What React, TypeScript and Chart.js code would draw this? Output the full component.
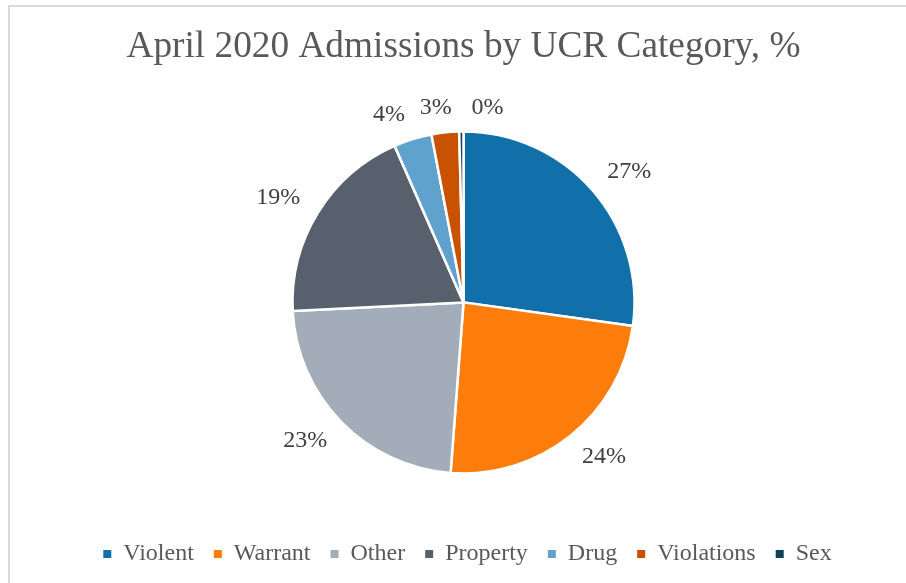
import { useEffect, useRef } from "react";
import { Chart, registerables } from "chart.js";

Chart.register(...registerables);

const categories = ["Violent", "Warrant", "Other", "Property", "Drug", "Violations", "Sex"];
const shares = [27.2, 24.0, 23.0, 19.2, 3.6, 2.6, 0.4];
const sliceColors = ["#1170AA", "#FC7D0B", "#A3ACB9", "#57606C", "#5FA2CE", "#C85200", "#123F5A"];
const titleText = "April 2020 Admissions by UCR Category, %";

const SERIF = "'Liberation Serif', 'Times New Roman', serif";

// small angular nudge (degrees) so the tiny last slice's label clears its neighbour
const labelNudgeDeg = [0, 0, 0, 0, 0, 0, 6];

const outsideLabels = {
  id: "outsideLabels",
  afterLayout(chart: any) {
    // nudge the centred legend slightly right, as in the reference
    if (chart.legend) {
      chart.legend.left += 4;
      chart.legend.right += 4;
    }
  },
  afterDatasetsDraw(chart: any) {
    const meta = chart.getDatasetMeta(0);
    const ctx = chart.ctx;
    const values = chart.data.datasets[0].data as number[];
    const total = values.reduce((a, b) => a + b, 0);
    ctx.save();
    ctx.font = `24px ${SERIF}`;
    ctx.fillStyle = "#404040";
    ctx.textAlign = "center";
    ctx.textBaseline = "middle";
    meta.data.forEach((arc: any, i: number) => {
      const p = arc.getProps(["x", "y", "startAngle", "endAngle", "outerRadius"], true);
      const mid = (p.startAngle + p.endAngle) / 2 + (labelNudgeDeg[i] * Math.PI) / 180;
      const c = Math.cos(mid);
      const s = Math.sin(mid);
      const lx = p.x + c * (p.outerRadius + 29) + Math.sign(c) * 15 * Math.min(1, 4 * Math.abs(c));
      const ly = p.y + s * (p.outerRadius + 24 + 5 * Math.abs(c));
      const txt = Math.round((values[i] / total) * 100) + "%";
      ctx.fillText(txt, lx, ly);
    });
    ctx.restore();
  },
};

export default function App() {
  const ref = useRef<HTMLCanvasElement | null>(null);

  useEffect(() => {
    if (!ref.current) return;
    const baseLabels = (Chart as any).overrides.pie.plugins.legend.labels.generateLabels;
    const chart = new Chart(ref.current, {
      type: "pie",
      data: {
        labels: categories,
        datasets: [
          {
            data: shares,
            backgroundColor: sliceColors,
            borderColor: "#ffffff",
            borderWidth: 2.5,
            radius: 171,
          },
        ],
      },
      options: {
        responsive: false,
        animation: false,
        layout: { padding: { left: 21, right: 0, top: 0, bottom: 7 } },
        plugins: {
          tooltip: { enabled: false },
          title: {
            display: true,
            text: titleText,
            color: "#595959",
            font: { family: SERIF, size: 37.3, weight: "normal" },
            padding: { top: 25, bottom: 13 },
          },
          legend: {
            position: "bottom",
            labels: {
              color: "#595959",
              font: { family: SERIF, size: 24 },
              boxWidth: 8,
              boxHeight: 8,
              padding: 20,
              generateLabels: (c: any) =>
                baseLabels(c).map((l: any) => ({ ...l, lineWidth: 0, strokeStyle: l.fillStyle })),
            },
          },
        },
      },
      plugins: [outsideLabels],
    });
    return () => chart.destroy();
  }, []);

  return (
    <div style={{ position: "fixed", left: 0, top: 0, width: 906, height: 583, background: "#ffffff", overflow: "hidden" }}>
      <div
        style={{
          position: "absolute",
          left: 8,
          top: 5,
          width: 960,
          height: 640,
          border: "2px solid #d9d9d9",
          boxSizing: "border-box",
        }}
      />
      <canvas ref={ref} width={906} height={583} style={{ position: "absolute", left: 0, top: 0 }} />
    </div>
  );
}
